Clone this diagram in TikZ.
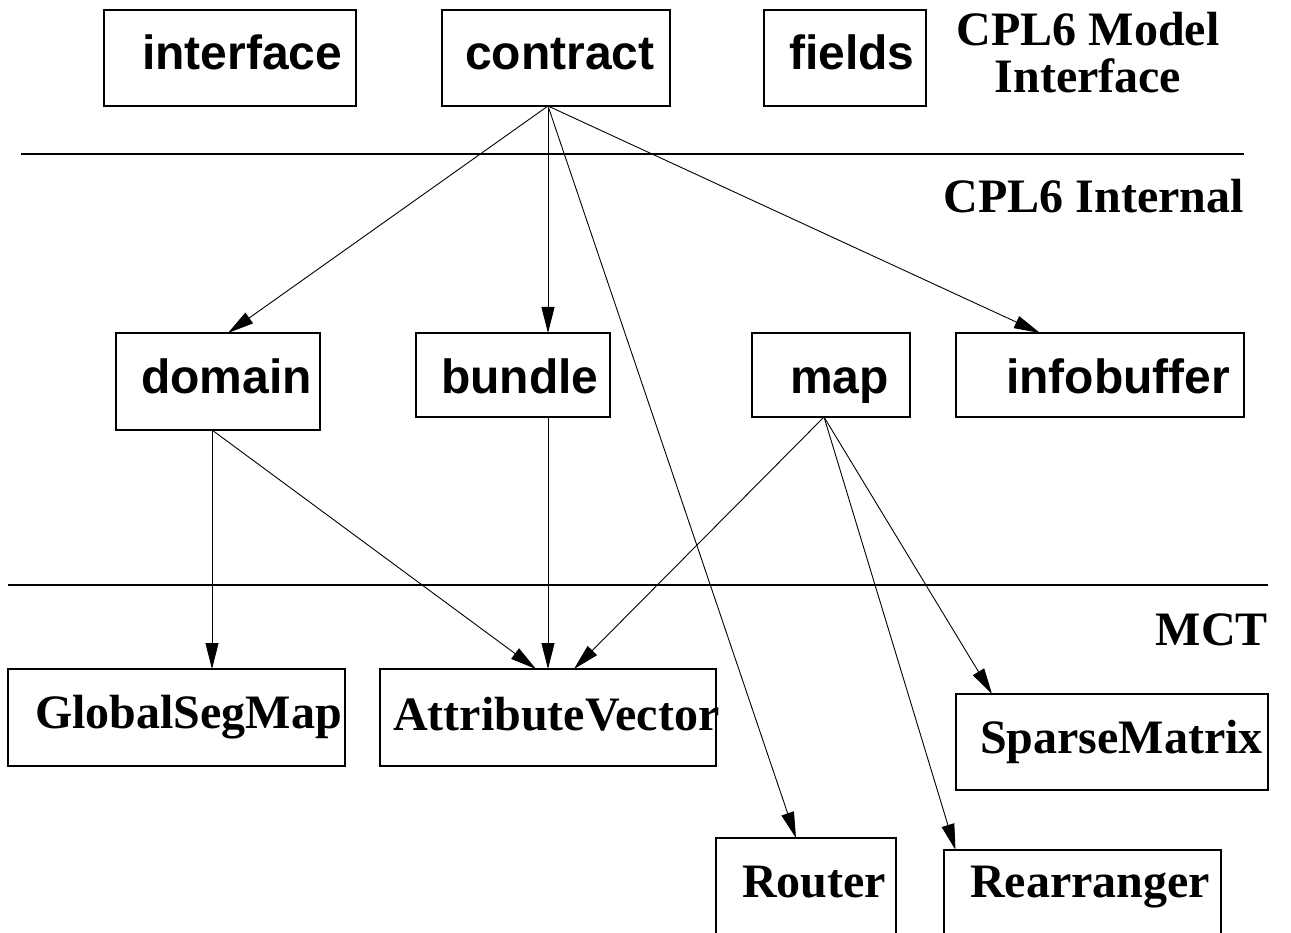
\documentclass[tikz,border=0pt]{standalone}
\usepackage{fontspec}
\setmainfont{Liberation Serif}
\setsansfont{Liberation Sans}
\usetikzlibrary{arrows.meta}
\begin{document}
\begin{tikzpicture}[x=1pt,y=-1pt,
  box/.style={draw, line width=1.2pt, inner sep=0pt, outer sep=0pt, anchor=north west},
  sl/.style={font=\sffamily\bfseries\fontsize{48}{50}\selectfont, inner sep=0pt, anchor=base west},
  rl/.style={font=\rmfamily\bfseries\fontsize{48}{47}\selectfont, inner sep=0pt},
  conn/.style={line width=0.9pt, -{Triangle[length=26pt,width=13pt]}},
  sepline/.style={line width=2.6pt}]
\useasboundingbox (0,0) rectangle (1291,933);
% separator lines
\coordinate (s1a) at (21,154);
\coordinate (s1b) at (1244,154);
\coordinate (s2a) at (8,585);
\coordinate (s2b) at (1268,585);
\draw[sepline] (s1a) -- (s1b);
\draw[sepline] (s2a) -- (s2b);
% top row
\node[box, minimum width=252pt, minimum height=96pt] (interface) at (104,10) {};
\node[box, minimum width=228pt, minimum height=96pt] (contract) at (442,10) {};
\node[box, minimum width=162pt, minimum height=96pt] (fields) at (764,10) {};
\node[sl] (tinterface) at (142,70) {interface};
\node[sl] (tcontract) at (465,70) {contract};
\node[sl] (tfields) at (789,70) {fields};
\node[rl, align=center, anchor=north] (tmodel) at (1088,12) {CPL6 Model\\Interface};
\node[rl, anchor=base east] (tinternal) at (1244,213) {CPL6 Internal};
% middle row
\node[box, minimum width=204pt, minimum height=97pt] (domain) at (116,333) {};
\node[box, minimum width=194pt, minimum height=84pt] (bundle) at (416,333) {};
\node[box, minimum width=158pt, minimum height=84pt] (map) at (752,333) {};
\node[box, minimum width=288pt, minimum height=84pt] (infobuffer) at (956,333) {};
\node[sl] (tdomain) at (141,393) {domain};
\node[sl] (tbundle) at (441,393) {bundle};
\node[sl] (tmap) at (790,393) {map};
\node[sl] (tinfobuffer) at (1006,393) {infobuffer};
% bottom rows
\node[rl, anchor=base east] (tmct) at (1268,645) {MCT};
\node[box, minimum width=337pt, minimum height=97pt] (gsm) at (8,669) {};
\node[box, minimum width=336pt, minimum height=97pt] (av) at (380,669) {};
\node[box, minimum width=312pt, minimum height=96pt] (sm) at (956,694) {};
\node[box, minimum width=180pt, minimum height=110pt] (router) at (716,838) {};
\node[box, minimum width=277pt, minimum height=100pt] (rearr) at (944,850) {};
\node[rl, anchor=base west] (tgsm) at (35,728) {GlobalSegMap};
\node[rl, anchor=base west] (tav) at (393,730) {AttributeVector};
\node[rl, anchor=base west] (tsm) at (980,753) {SparseMatrix};
\node[rl, anchor=base west] (trouter) at (742,897) {Router};
\node[rl, anchor=base west] (trearr) at (970,897) {Rearranger};
% connectors
\draw[conn] ([xshift=-8pt]contract.south) -- ([xshift=10pt]domain.north);
\draw[conn] ([xshift=-8pt]contract.south) -- ([xshift=35pt]bundle.north);
\draw[conn] ([xshift=-8pt]contract.south) -- ([xshift=-60pt]infobuffer.north);
\draw[conn] ([xshift=-8pt]contract.south) -- ([xshift=-10pt]router.north);
\draw[conn] ([xshift=-6pt]domain.south) -- ([xshift=35.5pt]gsm.north);
\draw[conn] ([xshift=-6pt]domain.south) -- ([xshift=-12pt]av.north);
\draw[conn] ([xshift=35pt]bundle.south) -- ([xshift=0pt]av.north);
\draw[conn] ([xshift=-7pt]map.south) -- ([xshift=26pt]av.north);
\draw[conn] ([xshift=-7pt]map.south) -- ([xshift=-120pt]sm.north);
\draw[conn] ([xshift=-7pt]map.south) -- ([xshift=-127pt]rearr.north);
\end{tikzpicture}
\end{document}
